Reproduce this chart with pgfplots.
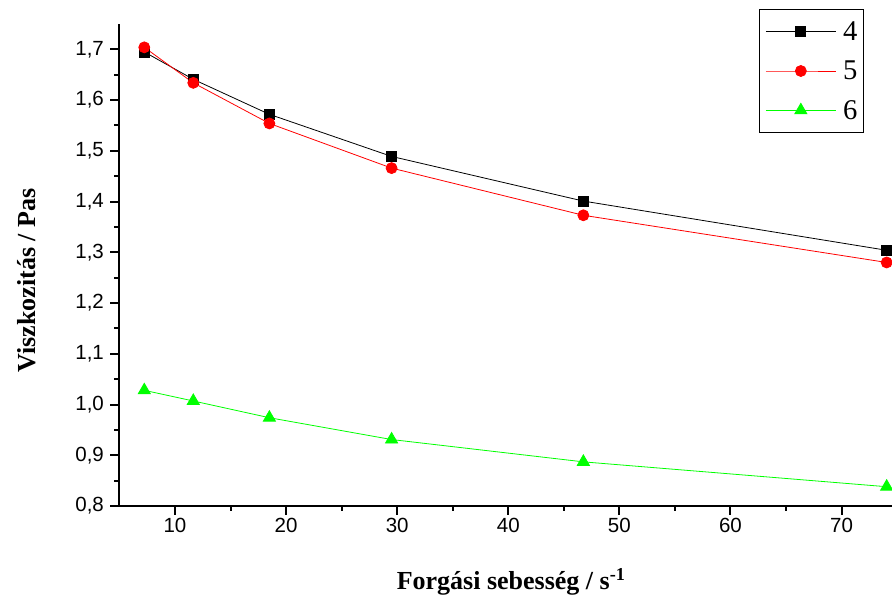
\documentclass[border=0pt]{standalone}
\usepackage{pgfplots}
\pgfplotsset{compat=1.18}
\usepackage{fontspec}
\setmainfont{Liberation Serif}
\setsansfont{Liberation Sans}
\definecolor{pgreen}{RGB}{0,255,0}
\definecolor{pred}{RGB}{255,0,0}
\begin{document}
\begin{tikzpicture}
\path[use as bounding box] (-119.4pt,-93pt) rectangle (772.6pt,506pt);
\begin{axis}[
  at={(0pt,0pt)}, anchor=south west,
  scale only axis,
  width=772.6pt, height=482pt,
  xmin=5, xmax=74.54,
  ymin=0.8, ymax=1.75,
  axis x line*=bottom, axis y line*=left,
  axis line style={line width=2pt, -},
  xtick={10,20,...,70},
  ytick={0.8,0.9,...,1.71},
  minor x tick num=1, minor y tick num=1,
  tick align=outside,
  major tick length=9pt, minor tick length=5pt,
  every tick/.style={line width=2pt, black},
  tick label style={font=\sffamily\fontsize{20.5}{20.5}\selectfont},
  /pgf/number format/assume math mode=true,
  yticklabel style={xshift=-3pt, /pgf/number format/.cd, fixed, precision=1, fixed zerofill, use comma},
  xticklabel style={/pgf/number format/.cd, fixed, precision=0},
  xlabel={Forgási sebesség / s\textsuperscript{-1}},
  ylabel={Viszkozitás / Pas},
  label style={font=\rmfamily\bfseries\fontsize{26}{26}\selectfont},
  xlabel style={at={(axis description cs:0.507,-0.174)}, anchor=base},
  ylabel style={at={(axis description cs:-0.109,0.468)}, anchor=base, rotate=0},
  clip=false,
  legend style={at={(0.9638,1.031)}, anchor=north east, draw=black, line width=1pt, fill=white,
    font=\rmfamily\fontsize{28.6}{28.6}\selectfont,
    inner xsep=6pt, inner ysep=12pt,
    nodes={inner sep=0pt},
    column sep=7pt, row sep=19pt, cells={anchor=west}},
  legend image code/.code={\draw[#1, line width=0.8pt, mark repeat=2, mark phase=2] plot coordinates {(0pt,0pt) (35pt,0pt) (70pt,0pt)};},
]
\addplot[black, line width=0.8pt, mark=square*, mark size=5pt, mark options={solid}]
 coordinates {(7.24,1.695) (11.65,1.641) (18.5,1.572) (29.5,1.489) (46.76,1.401) (74.06,1.304)};
\addlegendentry{4}
\addplot[pred, line width=0.8pt, mark=*, mark size=5.5pt, mark options={solid,fill=pred,draw=pred}]
 coordinates {(7.24,1.704) (11.65,1.634) (18.5,1.554) (29.5,1.466) (46.76,1.373) (74.06,1.280)};
\addlegendentry{5}
\addplot[pgreen, line width=0.8pt, mark=triangle*, mark size=7pt, mark options={solid,fill=pgreen,draw=pgreen}]
 coordinates {(7.24,1.028) (11.65,1.007) (18.5,0.974) (29.5,0.931) (46.76,0.887) (74.06,0.838)};
\addlegendentry{6}
\end{axis}
\end{tikzpicture}
\end{document}
